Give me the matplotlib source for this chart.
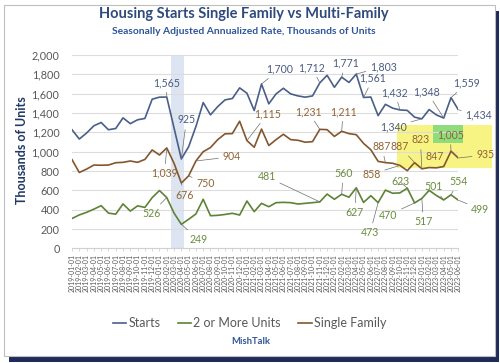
import matplotlib
matplotlib.use('Agg')
import matplotlib.pyplot as plt
from matplotlib.patches import Rectangle

# ---------------- data ----------------
months = ["2019-01-01", "2019-02-01", "2019-03-01", "2019-04-01", "2019-05-01", "2019-06-01",
          "2019-07-01", "2019-08-01", "2019-09-01", "2019-10-01", "2019-11-01", "2019-12-01",
          "2020-01-01", "2020-02-01", "2020-03-01", "2020-04-01", "2020-05-01", "2020-06-01",
          "2020-07-01", "2020-08-01", "2020-09-01", "2020-10-01", "2020-11-01", "2020-12-01",
          "2021-01-01", "2021-02-01", "2021-03-01", "2021-04-01", "2021-05-01", "2021-06-01",
          "2021-07-01", "2021-08-01", "2021-09-01", "2021-10-01", "2021-11-01", "2021-12-01",
          "2022-01-01", "2022-02-01", "2022-03-01", "2022-04-01", "2022-05-01", "2022-06-01",
          "2022-07-01", "2022-08-01", "2022-09-01", "2022-10-01", "2022-11-01", "2022-12-01",
          "2023-01-01", "2023-02-01", "2023-03-01", "2023-04-01", "2023-05-01", "2023-06-01"]

starts = [1227, 1131, 1193, 1268, 1302, 1227, 1240, 1350, 1290, 1330, 1344, 1543,
          1564, 1565, 1245, 925, 1051, 1260, 1508, 1381, 1467, 1536, 1550, 1660,
          1605, 1426, 1700, 1495, 1598, 1656, 1598, 1577, 1564, 1577, 1712, 1790,
          1666, 1771, 1716, 1803, 1561, 1565, 1373, 1490, 1450, 1432, 1427, 1357,
          1340, 1436, 1380, 1348, 1559, 1434]

single_family = [918, 785, 820, 862, 860, 862, 886, 890, 904, 890, 920, 1018,
                 966, 1039, 880, 676, 750, 904, 1000, 1043, 1125, 1185, 1187, 1315,
                 1115, 1046, 1234, 1064, 1125, 1180, 1125, 1118, 1098, 1104, 1231, 1228,
                 1158, 1211, 1187, 1176, 1086, 1020, 900, 887, 880, 858, 804, 887,
                 823, 836, 833, 847, 1005, 935]

multi_family = [309, 346, 373, 406, 442, 365, 354, 460, 386, 440, 424, 525,
                598, 526, 365, 249, 301, 356, 508, 338, 342, 351, 363, 345,
                490, 380, 466, 431, 473, 476, 473, 459, 466, 473, 481, 562,
                508, 560, 529, 627, 475, 545, 473, 603, 570, 574, 623, 470,
                517, 600, 547, 501, 554, 499]

series_names = ["Starts", "2 or More Units", "Single Family"]

# labelled points: (index, text x, text y) in data coordinates
starts_labels = [(13, 12.97, 1714), (15, 15.7, 1328), (26, 28.5, 1852), (34, 32.9, 1869),
                 (37, 37.5, 1914), (39, 42.7, 1880), (40, 41.3, 1759), (45, 44.3, 1610),
                 (48, 44.1, 1259), (51, 48.7, 1621), (52, 54.2, 1707), (53, 55.8, 1380)]
sf_labels = [(13, 12.7, 777), (15, 15.4, 552), (16, 18.3, 673), (17, 21.9, 948),
             (24, 26.8, 1390), (34, 32.4, 1414), (37, 37.2, 1414), (43, 42.5, 1052),
             (47, 45.0, 1052), (45, 41.1, 769), (48, 47.8, 1121), (51, 49.8, 948),
             (52, 51.9, 1173), (53, 56.7, 966)]
mf_labels = [(13, 10.9, 363), (15, 17.3, 97), (34, 26.7, 741), (37, 37.2, 776),
             (39, 38.8, 373), (42, 40.9, 163), (46, 45.0, 690), (47, 43.4, 345),
             (48, 48.2, 276), (51, 49.6, 638), (52, 53.0, 690), (53, 56.0, 405)]

# ---------------- style ----------------
FONT = 'Lato'
plt.rcParams['font.family'] = [FONT, 'DejaVu Sans']
C_START = '#4A5F88'
C_SF = '#84562E'
C_MF = '#5E8236'
T_START = '#4B5C80'
T_SF = '#8F6436'
T_MF = '#6A8C3E'
GRAY = '#595959'

W, H = 500, 363
def fx(px): return px / W
def fy(py): return 1 - py / H

fig = plt.figure(figsize=(5, 3.63), dpi=100)
fig.patch.set_facecolor('white')

# frame with shadow
fig.patches.append(Rectangle((fx(9), fy(362)), fx(499) - fx(9), fy(11) - fy(362),
                             transform=fig.transFigure, facecolor='#1F2B5B', edgecolor='none', zorder=-3))
fig.patches.append(Rectangle((fx(4), fy(356)), fx(495) - fx(4), fy(5) - fy(356),
                             transform=fig.transFigure, facecolor='white', edgecolor='#BFBFBF',
                             lw=0.8, zorder=-2))
# highlight boxes
fig.patches.append(Rectangle((fx(397), fy(168)), fx(492) - fx(397), fy(125) - fy(168),
                             transform=fig.transFigure, facecolor='#F8F483', edgecolor='none', zorder=-1))
fig.patches.append(Rectangle((fx(433), fy(143)), fx(463) - fx(433), fy(125) - fy(143),
                             transform=fig.transFigure, facecolor='#8EDC7C', edgecolor='none', zorder=-0.9))

ax = fig.add_axes([fx(72), fy(248.4), fx(458.3) - fx(72), fy(55) - fy(248.4)])
ax.patch.set_visible(False)
x = list(range(len(months)))

ax.set_xlim(0, len(months) - 1)
ax.set_ylim(0, 2000)
ax.set_yticks(range(0, 2001, 200))
ax.set_yticklabels([f"{v:,}" for v in range(0, 2001, 200)], fontsize=7.8, color=GRAY)
ax.tick_params(axis='y', length=0, pad=9)
ax.set_xticks(x)
ax.set_xticklabels(months, rotation=90, fontsize=5.0, color=GRAY)
ax.tick_params(axis='x', length=2.5, width=0.6, color='#D0D0D0', pad=1.5)
ax.yaxis.grid(True, color='#DCDCDC', lw=0.8)
ax.set_axisbelow(True)
for s in ['left', 'right', 'top']:
    ax.spines[s].set_visible(False)
ax.spines['bottom'].set_color('#D0D0D0')
ax.spines['bottom'].set_linewidth(0.8)

ax.axvspan(13.56, 15.34, color='#DCE5F1', lw=0, zorder=0.5)

l1, = ax.plot(x, starts, color=C_START, lw=1.2, zorder=3)
l2, = ax.plot(x, multi_family, color=C_MF, lw=1.2, zorder=3)
l3, = ax.plot(x, single_family, color=C_SF, lw=1.2, zorder=3)

def add_labels(values, specs, color):
    for idx, tx, ty in specs:
        ax.annotate(f"{values[idx]:,}", xy=(idx, values[idx]), xytext=(tx, ty),
                    ha='center', va='center', fontsize=7.6, color=color,
                    annotation_clip=False, zorder=5,
                    arrowprops=dict(arrowstyle='-', color='#6E6E6E', lw=0.5,
                                    shrinkA=1, shrinkB=0))

add_labels(starts, starts_labels, T_START)
add_labels(single_family, sf_labels, T_SF)
add_labels(multi_family, mf_labels, T_MF)

# titles
fig.text(fx(244), fy(14), "Housing Starts Single Family vs Multi-Family", ha='center', va='center',
         fontsize=10.5, weight='bold', color='#2F4A7C')
fig.text(fx(244), fy(31), "Seasonally Adjusted Annualized Rate, Thousands of Units", ha='center',
         va='center', fontsize=7.4, weight='bold', color='#2F5597')
fig.text(fx(22), fy(150), "Thousands of Units", rotation=90, ha='center', va='center',
         fontsize=9, weight='bold', color='#1F3864')

fig.legend([l1, l2, l3], series_names, loc='center', bbox_to_anchor=(fx(249.5), fy(323)),
           ncol=3, frameon=False, fontsize=9, handlelength=1.1, handletextpad=0.15,
           columnspacing=1.4, labelcolor=GRAY)
fig.text(fx(251), fy(341), "MishTalk", ha='center', va='center', fontsize=6.8,
         weight='bold', color='#2F5597')

fig.savefig('out.png', dpi=100)
